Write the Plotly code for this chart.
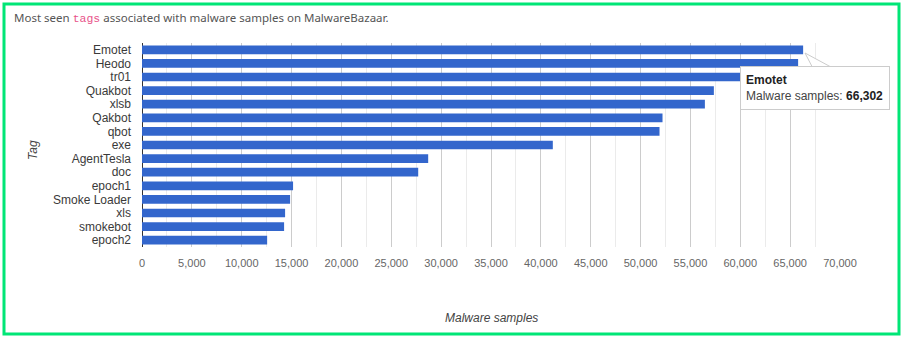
import plotly.graph_objects as go

tags = ["Emotet", "Heodo", "tr01", "Quakbot", "xlsb", "Qakbot", "qbot", "exe",
        "AgentTesla", "doc", "epoch1", "Smoke Loader", "xls", "smokebot", "epoch2"]
samples = [66302, 65800, 64300, 57350, 56450, 52200, 51900, 41200,
           28700, 27700, 15150, 14850, 14350, 14250, 12550]
x_ticks = list(range(0, 70001, 5000))

W, H = 903, 338
L, R, T, B = 142, 63, 43, 91
PW, PH = W - L - R, H - T - B


def px(x):
    return (x - L) / PW


def py(y):
    return 1 - (y - T) / PH


fig = go.Figure(go.Bar(
    x=samples, y=tags, orientation="h",
    marker=dict(color="#3366cc", line=dict(width=0)),
    hoverinfo="skip",
))

fig.update_layout(
    width=W, height=H,
    margin=dict(l=L, r=R, t=T, b=B),
    paper_bgcolor="white", plot_bgcolor="white",
    bargap=0.36,
    showlegend=False,
    font=dict(family="Liberation Sans, Arial", color="#444"),
    xaxis=dict(
        range=[0, 70000], tickvals=x_ticks,
        ticktext=[f"{v:,}" for v in x_ticks],
        showgrid=True, gridcolor="#cccccc", gridwidth=1,
        minor=dict(dtick=2500, showgrid=True, gridcolor="#ebebeb", gridwidth=1),
        zeroline=True, zerolinecolor="#333333", zerolinewidth=1,
        tickfont=dict(size=11, color="#666"), ticks="", ticklabelstandoff=8,
        fixedrange=True,
    ),
    yaxis=dict(
        type="category", categoryorder="array", categoryarray=tags,
        range=[len(tags) - 0.5, -0.5], autorange=False,
        tickmode="array", tickvals=tags, ticktext=tags,
        showgrid=False, tickfont=dict(size=12, color="#3a3a3a"), ticks="",
        ticklabelstandoff=10,
    ),
)

annotations = [
    dict(xref="paper", yref="paper", x=px(12), y=py(17),
         xanchor="left", yanchor="middle", showarrow=False,
         text="Most seen <span style='font-family:Liberation Mono, monospace;color:#e8548a'>tags</span> associated with malware samples on MalwareBazaar.",
         font=dict(family="Noto Sans", size=11.5, color="#555")),
    dict(xref="paper", yref="paper", x=0.5, y=py(318),
         xanchor="center", yanchor="middle", showarrow=False,
         text="<i>Malware samples</i>", font=dict(size=12, color="#444")),
    dict(xref="paper", yref="paper", x=px(33), y=py(150),
         xanchor="center", yanchor="middle", showarrow=False, textangle=-90,
         text="<i>Tag</i>", font=dict(size=12, color="#444")),
    dict(xref="paper", yref="paper", x=px(740), y=py(66),
         xanchor="left", yanchor="top", showarrow=False, align="left",
         width=138, height=32,
         text="<b>Emotet</b><br><span style='color:#444'>Malware samples:</span> <b>66,302</b>",
         bgcolor="white", bordercolor="#cccccc", borderwidth=1, borderpad=5,
         font=dict(size=12, color="#222")),
]
fig.update_layout(annotations=annotations)

# tooltip pointer
fig.add_shape(type="path", xref="paper", yref="paper",
              path=f"M {px(805)} {py(53)} L {px(830)} {py(66.5)} L {px(812)} {py(66.5)} Z",
              line=dict(color="#cccccc", width=1), fillcolor="white", layer="above")

fig.add_shape(type="rect", xref="paper", yref="paper",
              x0=px(4), x1=px(W - 4), y0=py(H - 4), y1=py(4),
              line=dict(color="#00e676", width=3), fillcolor="rgba(0,0,0,0)", layer="above")

fig.write_html("out.html")
